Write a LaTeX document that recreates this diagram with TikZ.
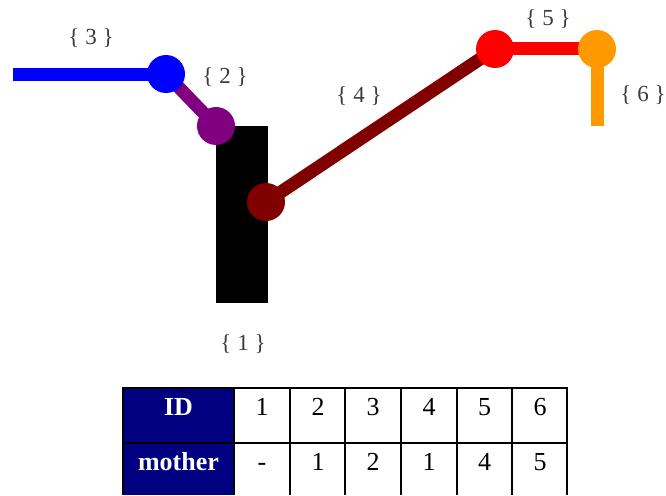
\documentclass[tikz,border=0pt]{standalone}
\usepackage{fontspec}
\setmainfont{Liberation Serif}
\definecolor{cblue}{RGB}{0,0,255}
\definecolor{cpurple}{RGB}{128,0,128}
\definecolor{cdred}{RGB}{128,0,0}
\definecolor{cred}{RGB}{255,0,0}
\definecolor{corange}{RGB}{255,153,0}
\definecolor{cnavy}{RGB}{0,0,128}
\definecolor{clabel}{RGB}{60,60,60}
\begin{document}
\begin{tikzpicture}[x=1pt,y=-1pt,
  joint/.style={circle,inner sep=0pt,minimum size=38pt,fill=#1},
  seg/.style={line width=13pt,draw=#1},
  lbl/.style={text=clabel,font=\fontsize{23}{26}\selectfont,inner sep=0pt,anchor=base},
  tcell/.style={font=\fontsize{26}{30}\selectfont,inner sep=0pt,anchor=base},
  hcell/.style={font=\fontsize{26}{30}\selectfont\bfseries,text=white,inner sep=0pt,anchor=base},
  grid/.style={line width=2pt,draw=black}]
\useasboundingbox (0,0) rectangle (666,495);
% segment 1
\node[fill=black,inner sep=0pt,minimum width=52pt,minimum height=177pt] (s1) at (242,214.5) {};
% joints
\coordinate (p3) at (13,74);
\coordinate (p6) at (597,126);
\coordinate (c3) at (166,74);
\coordinate (c2) at (216,126);
\coordinate (c4) at (266,202);
\coordinate (c5) at (495,49);
\coordinate (c6) at (597,49);
\draw[seg=cblue] (p3) -- (c3);
\draw[seg=cpurple] (c3) -- (c2);
\draw[seg=cdred] (c4) -- (c5);
\draw[seg=cred] (c5) -- (c6);
\draw[seg=corange] (c6) -- (p6);
\node[joint=cblue] (j3) at (c3) {};
\node[joint=cpurple] (j2) at (c2) {};
\node[joint=cdred] (j4) at (c4) {};
\node[joint=cred] (j5) at (c5) {};
\node[joint=corange] (j6) at (c6) {};
% labels
\node[lbl] (l3) at (91,45) {\{ 3 \}};
\node[lbl] (l2) at (225,83) {\{ 2 \}};
\node[lbl] (l4) at (359,102) {\{ 4 \}};
\node[lbl] (l5) at (548,26) {\{ 5 \}};
\node[lbl] (l6) at (643,101) {\{ 6 \}};
\node[lbl] (l1) at (243,350) {\{ 1 \}};
% table
\fill[cnavy] (123,388) rectangle (234,495);
\draw[grid] (123,495) -- (123,388) -- (567,388) -- (567,495);
\draw[grid] (123,442.7) -- (567,442.7);
\foreach \x in {234,290,345,401,456.5,512} {\draw[grid] (\x,388) -- (\x,495);}
\node[hcell] (hid) at (178.5,415) {ID};
\node[hcell] (hmo) at (178.5,470) {mother};
\foreach \x/\a/\b [count=\i] in {262/1/-,318/2/1,373/3/2,429/4/1,484.5/5/4,540/6/5} {
  \node[tcell] (id\i) at (\x,415) {\a};
  \node[tcell] (mo\i) at (\x,470) {\b};
}
\end{tikzpicture}
\end{document}
